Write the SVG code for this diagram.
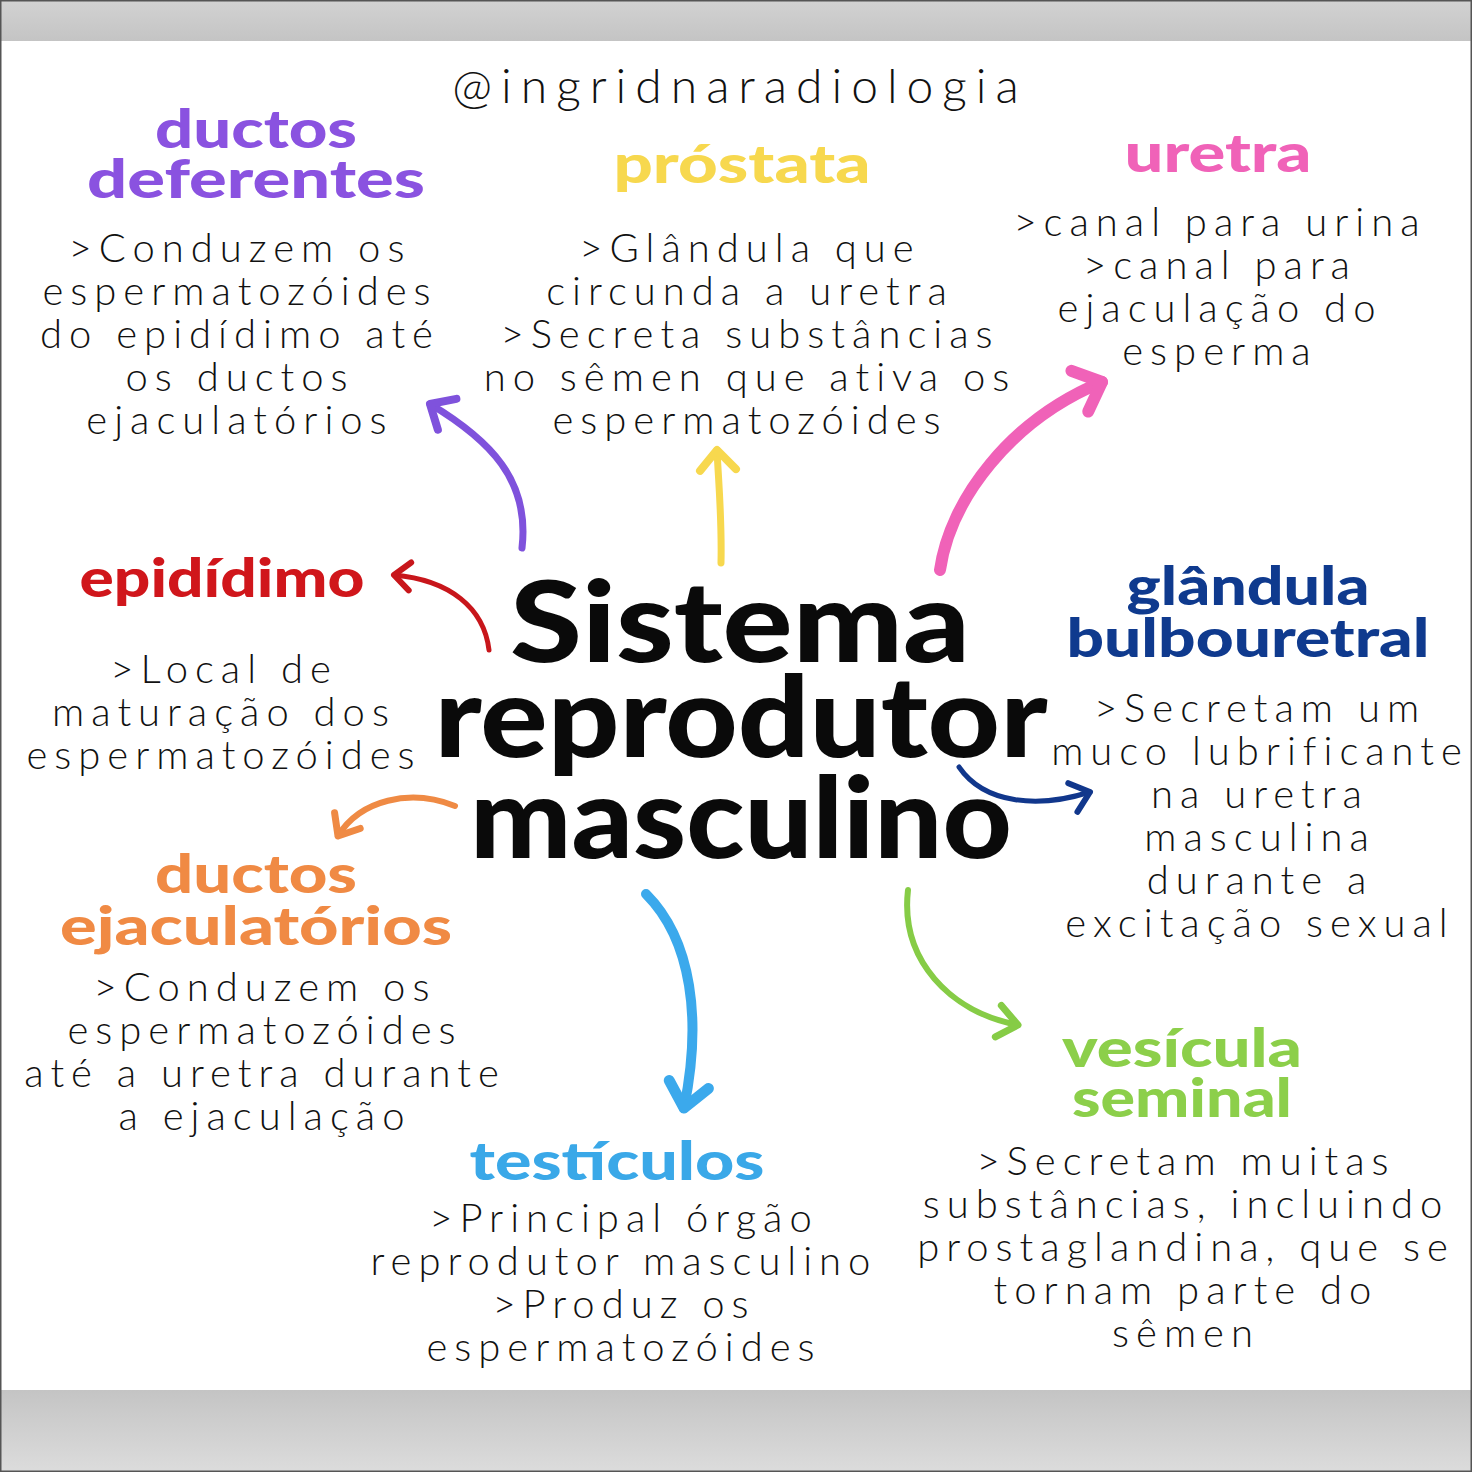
<svg xmlns="http://www.w3.org/2000/svg" width="1472" height="1472" viewBox="0 0 1472 1472">
<defs>
<linearGradient id="gt" x1="0" y1="0" x2="0" y2="1"><stop offset="0" stop-color="#d2d2d2"/><stop offset="1" stop-color="#c4c4c4"/></linearGradient>
<linearGradient id="gb" x1="0" y1="0" x2="0" y2="1"><stop offset="0" stop-color="#c4c4c4"/><stop offset="1" stop-color="#dcdcdc"/></linearGradient>
<marker id="mPurple" markerUnits="userSpaceOnUse" viewBox="-30 -30 40 60" markerWidth="40" markerHeight="60" orient="auto" overflow="visible"><path d="M-20,-18 L0,0 L-20,18" fill="none" stroke="#7f52dc" stroke-width="8" stroke-linecap="round" stroke-linejoin="round"/></marker>
<marker id="mYellow" markerUnits="userSpaceOnUse" viewBox="-30 -30 40 60" markerWidth="40" markerHeight="60" orient="auto" overflow="visible"><path d="M-20,-18 L0,0 L-20,18" fill="none" stroke="#f7d84e" stroke-width="8" stroke-linecap="round" stroke-linejoin="round"/></marker>
<marker id="mPink" markerUnits="userSpaceOnUse" viewBox="-30 -30 40 60" markerWidth="40" markerHeight="60" orient="auto" overflow="visible"><path d="M-24,-22 L0,0 L-24,22" fill="none" stroke="#f062b8" stroke-width="12" stroke-linecap="round" stroke-linejoin="round"/></marker>
<marker id="mRed" markerUnits="userSpaceOnUse" viewBox="-30 -30 40 60" markerWidth="40" markerHeight="60" orient="auto" overflow="visible"><path d="M-16,-14 L0,0 L-16,14" fill="none" stroke="#c8161b" stroke-width="6" stroke-linecap="round" stroke-linejoin="round"/></marker>
<marker id="mNavy" markerUnits="userSpaceOnUse" viewBox="-30 -30 40 60" markerWidth="40" markerHeight="60" orient="auto" overflow="visible"><path d="M-18,-15 L0,0 L-18,15" fill="none" stroke="#11378c" stroke-width="6" stroke-linecap="round" stroke-linejoin="round"/></marker>
<marker id="mOrange" markerUnits="userSpaceOnUse" viewBox="-30 -30 40 60" markerWidth="40" markerHeight="60" orient="auto" overflow="visible"><path d="M-18,-15 L0,0 L-18,15" fill="none" stroke="#ef8a44" stroke-width="7" stroke-linecap="round" stroke-linejoin="round"/></marker>
<marker id="mBlue" markerUnits="userSpaceOnUse" viewBox="-30 -30 40 60" markerWidth="40" markerHeight="60" orient="auto" overflow="visible"><path d="M-24,-20 L0,0 L-24,20" fill="none" stroke="#3ba9ec" stroke-width="11" stroke-linecap="round" stroke-linejoin="round"/></marker>
<marker id="mGreen" markerUnits="userSpaceOnUse" viewBox="-30 -30 40 60" markerWidth="40" markerHeight="60" orient="auto" overflow="visible"><path d="M-20,-16 L0,0 L-20,16" fill="none" stroke="#86cc46" stroke-width="7" stroke-linecap="round" stroke-linejoin="round"/></marker>
</defs>
<style>
.body{font-family:Lato,"Liberation Sans",sans-serif;font-weight:300;font-size:40px;letter-spacing:7px;fill:#111;text-anchor:middle}
.head{font-family:Lato,"Liberation Sans",sans-serif;font-weight:900;font-size:54px;text-anchor:middle}
.title{font-family:Lato,"Liberation Sans",sans-serif;font-weight:900;font-size:112px;fill:#0a0a0a;text-anchor:middle}
.handle{font-family:Lato,"Liberation Sans",sans-serif;font-weight:300;font-size:48px;letter-spacing:9px;fill:#111;text-anchor:middle}
.arr{fill:none;stroke-linecap:round}
</style>
<rect x="0" y="0" width="1472" height="1472" fill="#ffffff"/>
<rect x="0" y="0" width="1472" height="41" fill="url(#gt)"/>
<rect x="0" y="1390" width="1472" height="82" fill="url(#gb)"/>
<rect x="0.5" y="0.5" width="1471" height="1471" fill="none" stroke="#555" stroke-width="2"/>

<text class="handle" x="740" y="103">@ingridnaradiologia</text>

<g id="title"><text class="title" x="740" y="662" textLength="460" lengthAdjust="spacingAndGlyphs">Sistema</text><text class="title" x="741" y="757" textLength="613" lengthAdjust="spacingAndGlyphs">reprodutor</text><text class="title" x="741" y="858" textLength="542" lengthAdjust="spacingAndGlyphs">masculino</text></g>

<g id="ductos-deferentes"><text class="head" x="256" y="148" fill="#8a52e0" textLength="202" lengthAdjust="spacingAndGlyphs">ductos</text><text class="head" x="256" y="198" fill="#8a52e0" textLength="338" lengthAdjust="spacingAndGlyphs">deferentes</text>
<text class="body" x="240" y="262">&gt;Conduzem os</text><text class="body" x="240" y="305">espermatozóides</text><text class="body" x="240" y="348">do epidídimo até</text><text class="body" x="240" y="391">os ductos</text><text class="body" x="240" y="434">ejaculatórios</text></g>

<g id="prostata"><text class="head" x="742" y="183" fill="#f7d84e" textLength="257" lengthAdjust="spacingAndGlyphs">próstata</text>
<text class="body" x="750" y="262">&gt;Glândula que</text><text class="body" x="750" y="305">circunda a uretra</text><text class="body" x="750" y="348">&gt;Secreta substâncias</text><text class="body" x="750" y="391">no sêmen que ativa os</text><text class="body" x="750" y="434">espermatozóides</text></g>

<g id="uretra"><text class="head" x="1218" y="172" fill="#f062b8" textLength="187" lengthAdjust="spacingAndGlyphs">uretra</text>
<text class="body" x="1220" y="236">&gt;canal para urina</text><text class="body" x="1220" y="279">&gt;canal para</text><text class="body" x="1220" y="322">ejaculação do</text><text class="body" x="1220" y="365">esperma</text></g>

<g id="epididimo"><text class="head" x="222" y="597" fill="#d0161b" textLength="285" lengthAdjust="spacingAndGlyphs">epidídimo</text>
<text class="body" x="224" y="683">&gt;Local de</text><text class="body" x="224" y="726">maturação dos</text><text class="body" x="224" y="769">espermatozóides</text></g>

<g id="glandula-bulbouretral"><text class="head" x="1248" y="605" fill="#0f3a8e" textLength="243" lengthAdjust="spacingAndGlyphs">glândula</text><text class="head" x="1248" y="657" fill="#0f3a8e" textLength="363" lengthAdjust="spacingAndGlyphs">bulbouretral</text>
<text class="body" x="1260" y="722">&gt;Secretam um</text><text class="body" x="1260" y="765">muco lubrificante</text><text class="body" x="1260" y="808">na uretra</text><text class="body" x="1260" y="851">masculina</text><text class="body" x="1260" y="894">durante a</text><text class="body" x="1260" y="937">excitação sexual</text></g>

<g id="ductos-ejaculatorios"><text class="head" x="256" y="893" fill="#f08a44" textLength="202" lengthAdjust="spacingAndGlyphs">ductos</text><text class="head" x="256" y="945" fill="#f08a44" textLength="392" lengthAdjust="spacingAndGlyphs">ejaculatórios</text>
<text class="body" x="265" y="1001">&gt;Conduzem os</text><text class="body" x="265" y="1044">espermatozóides</text><text class="body" x="265" y="1087">até a uretra durante</text><text class="body" x="265" y="1130">a ejaculação</text></g>

<g id="testiculos"><text class="head" x="617" y="1180" fill="#3aa8e8" textLength="295" lengthAdjust="spacingAndGlyphs">testículos</text>
<text class="body" x="624" y="1232">&gt;Principal órgão</text><text class="body" x="624" y="1275">reprodutor masculino</text><text class="body" x="624" y="1318">&gt;Produz os</text><text class="body" x="624" y="1361">espermatozóides</text></g>

<g id="vesicula-seminal"><text class="head" x="1182" y="1067" fill="#8ccf4a" textLength="240" lengthAdjust="spacingAndGlyphs">vesícula</text><text class="head" x="1182" y="1117" fill="#8ccf4a" textLength="220" lengthAdjust="spacingAndGlyphs">seminal</text>
<text class="body" x="1186" y="1175">&gt;Secretam muitas</text><text class="body" x="1186" y="1218">substâncias, incluindo</text><text class="body" x="1186" y="1261">prostaglandina, que se</text><text class="body" x="1186" y="1304">tornam parte do</text><text class="body" x="1186" y="1347">sêmen</text></g>

<g id="connectors">
<path class="arr" d="M522,548 C530,480 490,440 430,404" stroke="#7f52dc" stroke-width="7" marker-end="url(#mPurple)"/>
<path class="arr" d="M721,563 C722,520 719,490 717,450" stroke="#f7d84e" stroke-width="7" marker-end="url(#mYellow)"/>
<path class="arr" d="M940,570 C950,500 1010,420 1102,382" stroke="#f062b8" stroke-width="12" marker-end="url(#mPink)"/>
<path class="arr" d="M489,650 C484,608 450,580 394,575" stroke="#c8161b" stroke-width="5" marker-end="url(#mRed)"/>
<path class="arr" d="M959,767 C985,805 1040,808 1090,792" stroke="#11378c" stroke-width="5" marker-end="url(#mNavy)"/>
<path class="arr" d="M455,806 C410,788 360,800 338,836" stroke="#ef8a44" stroke-width="6" marker-end="url(#mOrange)"/>
<path class="arr" d="M646,894 C692,940 702,1020 684,1108" stroke="#3ba9ec" stroke-width="10" marker-end="url(#mBlue)"/>
<path class="arr" d="M908,890 C900,960 950,1012 1018,1025" stroke="#86cc46" stroke-width="6" marker-end="url(#mGreen)"/>
</g>
</svg>
